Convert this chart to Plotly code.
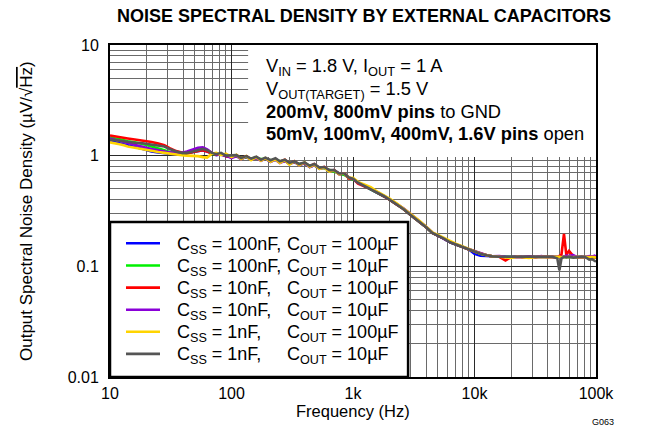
import plotly.graph_objects as go

# ---------------- data ----------------
freq_hz = [
    10, 11, 12, 13, 14, 16, 18, 20, 22, 25,
    28, 31, 35, 39, 43, 48, 53, 58, 63, 69,
    75, 82, 90, 100, 110, 120, 132, 145, 160, 175,
    190, 210, 230, 250, 275, 300, 330, 360, 400, 440,
    480, 530, 580, 640, 700, 770, 850, 930, 1000, 1100,
    1250, 1400, 1600, 1800, 2000, 2300, 2600, 3000, 3500, 4000,
    4500, 5000, 5600, 6300, 7000, 8000, 9000, 10000, 11200, 12600,
    14000, 16000, 18000, 20000, 22500, 25000, 28000, 31500, 35500, 40000,
    44000, 48000, 50000, 52000, 54500, 57000, 60000, 65000, 70000, 76000,
    82000, 88000, 93000, 97000, 100000,
]

css100n_cout100u = [  # blue
    1.36, 1.33, 1.30, 1.27, 1.24, 1.20, 1.16, 1.12, 1.09, 1.07,
    1.05, 1.04, 1.03, 1.03, 1.05, 1.07, 1.10, 1.12, 1.09, 1.04,
    1.01, 1.03, 0.99, 0.98, 1.00, 0.94, 0.97, 0.92, 0.96, 0.91,
    0.94, 0.88, 0.93, 0.87, 0.90, 0.84, 0.88, 0.83, 0.85, 0.79,
    0.82, 0.76, 0.78, 0.73, 0.73, 0.68, 0.68, 0.63, 0.62, 0.57,
    0.53, 0.50, 0.46, 0.43, 0.40, 0.36, 0.33, 0.29, 0.255, 0.225,
    0.20, 0.19, 0.178, 0.165, 0.158, 0.15, 0.142, 0.13, 0.125, 0.124,
    0.123, 0.122, 0.122, 0.121, 0.122, 0.121, 0.122, 0.121, 0.122, 0.121,
    0.122, 0.121, 0.122, 0.121, 0.122, 0.121, 0.122, 0.121, 0.121, 0.122,
    0.121, 0.121, 0.122, 0.121, 0.12,
]
css100n_cout10u = [  # green
    1.46, 1.44, 1.41, 1.38, 1.35, 1.32, 1.29, 1.25, 1.21, 1.17,
    1.12, 1.08, 1.05, 1.04, 1.05, 1.08, 1.12, 1.14, 1.11, 1.04,
    1.02, 1.03, 1.00, 0.98, 0.99, 0.96, 0.97, 0.94, 0.96, 0.93,
    0.93, 0.91, 0.92, 0.89, 0.90, 0.86, 0.87, 0.84, 0.85, 0.81,
    0.82, 0.78, 0.77, 0.74, 0.72, 0.69, 0.67, 0.63, 0.61, 0.57,
    0.53, 0.50, 0.46, 0.43, 0.40, 0.36, 0.33, 0.29, 0.255, 0.225,
    0.20, 0.19, 0.178, 0.165, 0.158, 0.15, 0.142, 0.136, 0.13, 0.126,
    0.123, 0.122, 0.122, 0.121, 0.122, 0.121, 0.122, 0.121, 0.122, 0.121,
    0.122, 0.121, 0.122, 0.121, 0.122, 0.121, 0.122, 0.121, 0.121, 0.122,
    0.121, 0.121, 0.122, 0.121, 0.12,
]
css10n_cout100u = [  # red
    1.52, 1.50, 1.47, 1.45, 1.43, 1.40, 1.38, 1.36, 1.33, 1.29,
    1.24, 1.17, 1.10, 1.07, 1.05, 1.08, 1.10, 1.12, 1.09, 1.05,
    1.02, 1.04, 0.99, 0.97, 1.01, 0.95, 0.99, 0.93, 0.96, 0.91,
    0.94, 0.90, 0.93, 0.88, 0.92, 0.85, 0.89, 0.83, 0.86, 0.80,
    0.84, 0.77, 0.79, 0.73, 0.74, 0.68, 0.69, 0.62, 0.62, 0.56,
    0.53, 0.50, 0.46, 0.43, 0.40, 0.36, 0.33, 0.29, 0.255, 0.225,
    0.20, 0.19, 0.178, 0.166, 0.158, 0.15, 0.142, 0.136, 0.13, 0.126,
    0.123, 0.122, 0.113, 0.121, 0.122, 0.121, 0.122, 0.121, 0.122, 0.121,
    0.122, 0.121, 0.124, 0.128, 0.196, 0.127, 0.138, 0.124, 0.121, 0.122,
    0.121, 0.121, 0.122, 0.121, 0.12,
]
css10n_cout10u = [  # purple
    1.43, 1.40, 1.37, 1.33, 1.30, 1.26, 1.22, 1.18, 1.15, 1.12,
    1.09, 1.07, 1.06, 1.06, 1.09, 1.14, 1.18, 1.19, 1.14, 1.06,
    1.03, 1.02, 1.00, 0.95, 0.99, 0.93, 0.98, 0.92, 0.95, 0.90,
    0.94, 0.88, 0.92, 0.86, 0.90, 0.84, 0.88, 0.82, 0.86, 0.79,
    0.82, 0.77, 0.78, 0.73, 0.74, 0.69, 0.69, 0.63, 0.62, 0.57,
    0.535, 0.505, 0.465, 0.435, 0.405, 0.365, 0.335, 0.295, 0.258, 0.228,
    0.202, 0.19, 0.178, 0.165, 0.158, 0.15, 0.142, 0.136, 0.13, 0.126,
    0.123, 0.124, 0.122, 0.121, 0.122, 0.121, 0.122, 0.121, 0.124, 0.121,
    0.122, 0.121, 0.122, 0.121, 0.123, 0.125, 0.124, 0.126, 0.121, 0.122,
    0.121, 0.124, 0.122, 0.125, 0.123,
]
css1n_cout100u = [  # yellow
    1.32, 1.30, 1.27, 1.24, 1.21, 1.18, 1.15, 1.12, 1.10, 1.08,
    1.06, 1.04, 1.02, 1.01, 1.00, 1.00, 0.99, 0.97, 0.96, 1.04,
    1.06, 1.01, 1.04, 0.97, 1.02, 0.93, 0.99, 0.91, 0.97, 0.90,
    0.95, 0.88, 0.93, 0.86, 0.91, 0.83, 0.89, 0.82, 0.87, 0.79,
    0.83, 0.76, 0.78, 0.72, 0.74, 0.68, 0.69, 0.63, 0.63, 0.58,
    0.55, 0.52, 0.47, 0.44, 0.41, 0.37, 0.335, 0.295, 0.26, 0.228,
    0.203, 0.192, 0.18, 0.167, 0.16, 0.151, 0.143, 0.137, 0.13, 0.126,
    0.123, 0.122, 0.12, 0.119, 0.122, 0.121, 0.119, 0.121, 0.122, 0.121,
    0.122, 0.121, 0.122, 0.121, 0.122, 0.121, 0.122, 0.121, 0.121, 0.122,
    0.121, 0.121, 0.122, 0.121, 0.12,
]
css1n_cout10u = [  # gray
    1.40, 1.38, 1.36, 1.34, 1.33, 1.31, 1.30, 1.28, 1.26, 1.24,
    1.21, 1.15, 1.09, 1.06, 1.06, 1.09, 1.13, 1.15, 1.12, 1.06,
    1.03, 1.06, 1.00, 1.00, 1.01, 0.95, 0.99, 0.94, 0.98, 0.92,
    0.96, 0.91, 0.95, 0.89, 0.92, 0.86, 0.89, 0.84, 0.87, 0.81,
    0.84, 0.78, 0.79, 0.74, 0.74, 0.69, 0.69, 0.63, 0.62, 0.57,
    0.53, 0.50, 0.46, 0.43, 0.40, 0.36, 0.33, 0.29, 0.255, 0.225,
    0.20, 0.19, 0.178, 0.165, 0.158, 0.15, 0.142, 0.136, 0.13, 0.126,
    0.123, 0.122, 0.122, 0.121, 0.122, 0.121, 0.122, 0.121, 0.122, 0.121,
    0.122, 0.118, 0.092, 0.118, 0.122, 0.121, 0.122, 0.12, 0.121, 0.122,
    0.121, 0.115, 0.116, 0.112, 0.11,
]

series_values = [css100n_cout100u, css100n_cout10u, css10n_cout100u,
                 css10n_cout10u, css1n_cout100u, css1n_cout10u]
series_css = ["100nF,", "100nF,", "10nF,", "10nF,", "1nF,", "1nF,"]
series_cout = ["100µF", "10µF", "100µF", "10µF", "100µF", "10µF"]
series_colors = ["#0000FF", "#00F000", "#FF0000", "#8A00D8", "#FFD400", "#555555"]

x_tick_vals = [10, 100, 1000, 10000, 100000]
x_tick_text = ["10", "100", "1k", "10k", "100k"]
y_tick_vals = [0.01, 0.1, 1, 10]
y_tick_text = ["0.01", "0.1", "1", "10"]
x_minor_vals = [m * 10 ** e for e in range(1, 5) for m in range(2, 10)]
y_minor_vals = [round(m * 10.0 ** e, 6) for e in range(-2, 1) for m in range(2, 10)]

# white panel behind the condition text, and the legend frame (axis units)
panel_x = [137, 100000, 100000, 137, 137]
panel_y = [0.975, 0.975, 10, 10, 0.975]
legbox_x = [10, 2840, 2840, 10, 10]
legbox_y = [0.01, 0.01, 0.252, 0.252, 0.01]

# ---------------- layout geometry ----------------
W, H = 650, 432
L, R, T, B = 110, 54, 45, 55
PW, PH = W - L - R, H - T - B
FONT = "Liberation Sans, Arial, sans-serif"


def px(x):
    return (x - L) / PW


def py(y):
    return (H - B - y) / PH


fig = go.Figure()
fig.add_trace(go.Scatter(x=panel_x, y=panel_y, mode="lines", fill="toself",
                         fillcolor="white", line=dict(width=0, color="white"),
                         showlegend=False, hoverinfo="skip"))
fig.add_trace(go.Scatter(x=legbox_x, y=legbox_y, mode="lines", fill="toself",
                         fillcolor="white", line=dict(width=2.5, color="black"),
                         showlegend=False, hoverinfo="skip"))

for vals, css, cout, col in zip(series_values, series_css, series_cout, series_colors):
    fig.add_trace(go.Scatter(
        x=freq_hz, y=vals, mode="lines",
        name=f"CSS = {css} COUT = {cout}",
        line=dict(color=col, width=2.6),
        showlegend=False, hoverinfo="skip",
    ))

axis_common = dict(
    type="log", showgrid=True, gridcolor="#2a2a2a", gridwidth=1,
    showline=True, linecolor="black", linewidth=2, mirror=True,
    ticks="", zeroline=False, tickfont=dict(size=16, color="black", family=FONT),
)
fig.update_xaxes(
    range=[1, 5], tickmode="array", tickvals=x_tick_vals, ticktext=x_tick_text,
    minor=dict(tickmode="array", tickvals=x_minor_vals, showgrid=True,
               gridcolor="#6a6a6a", gridwidth=1, ticks=""),
    ticklabelstandoff=1, **axis_common)
fig.update_yaxes(
    range=[-2, 1], tickmode="array", tickvals=y_tick_vals, ticktext=y_tick_text,
    minor=dict(tickmode="array", tickvals=y_minor_vals, showgrid=True,
               gridcolor="#6a6a6a", gridwidth=1, ticks=""),
    ticklabelstandoff=6, **axis_common)

shapes = []
legend_rows_y = [243.3, 265.5, 287.6, 309.7, 331.8, 353.9]
for ry, col in zip(legend_rows_y, series_colors):
    shapes.append(dict(type="line", xref="paper", yref="paper",
                       x0=px(126), x1=px(160), y0=py(ry), y1=py(ry),
                       line=dict(color=col, width=2.6), layer="above"))

ann = []


def add_text(text, x, y, size, xanchor="left", yanchor="middle", angle=0):
    ann.append(dict(text=text, x=px(x), y=py(y), xref="paper", yref="paper",
                    showarrow=False, xanchor=xanchor, yanchor=yanchor,
                    textangle=angle, font=dict(size=size, color="black", family=FONT)))


for ry, css, cout in zip(legend_rows_y, series_css, series_cout):
    add_text(f"C<sub>SS</sub> = {css}", 175, ry + 2, 18)
    add_text(f"C<sub>OUT</sub> = {cout}", 285, ry + 2, 18)

add_text("V<sub>IN</sub> = 1.8 V, I<sub>OUT</sub> = 1 A", 264, 67.5, 18.3)
add_text("V<sub>OUT(TARGET)</sub> = 1.5 V", 264, 90, 18.3)
add_text("<b>200mV, 800mV pins</b> to GND", 264, 111, 18.3)
add_text("<b>50mV, 100mV, 400mV, 1.6V pins</b> open", 264, 133, 18.3)

add_text("<b>NOISE SPECTRAL DENSITY BY EXTERNAL CAPACITORS</b>", 364, 16, 18, xanchor="center")
add_text("Frequency (Hz)", 353, 411, 16.5, xanchor="center")
add_text("Output Spectral Noise Density (µV/√<span style='text-decoration:overline'>Hz</span>)",
         26, 211, 17, xanchor="center", angle=-90)
add_text("G063", 603, 422, 9, xanchor="center")

fig.update_layout(
    width=W, height=H, margin=dict(l=L, r=R, t=T, b=B, autoexpand=False),
    paper_bgcolor="white", plot_bgcolor="white",
    font=dict(family=FONT, color="black"),
    shapes=shapes, annotations=ann, showlegend=False,
)

fig.write_html("out.html", config={"displayModeBar": False},
               post_script="document.body.style.margin='0px';")
